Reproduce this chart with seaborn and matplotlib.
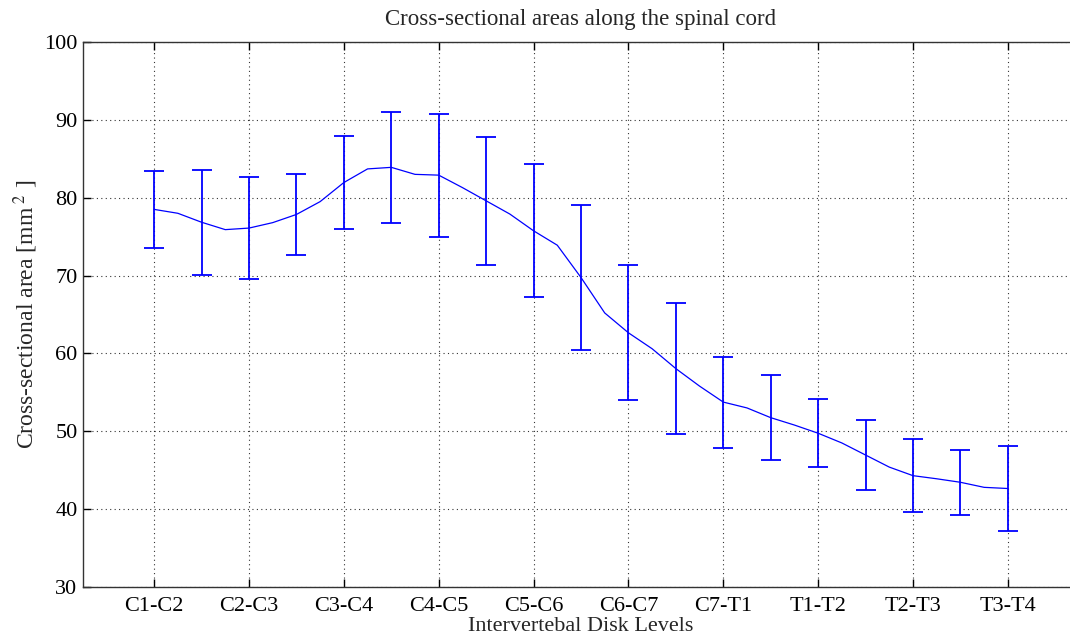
import numpy as np
import matplotlib
matplotlib.use("Agg")
import matplotlib.pyplot as plt
import seaborn as sns

# Intervertebral disk levels (tick labels)
levels = ["C1-C2", "C2-C3", "C3-C4", "C4-C5", "C5-C6",
          "C6-C7", "C7-T1", "T1-T2", "T2-T3", "T3-T4"]

# Mean cross-sectional area, sampled every quarter level (C1-C2 .. T3-T4)
area_curve = [78.5, 78.0, 76.85, 75.9, 76.1, 76.8, 77.85, 79.5,
              81.95, 83.7, 83.9, 83.0, 82.9, 81.3, 79.6, 77.9,
              75.75, 73.9, 69.75, 65.2, 62.65, 60.6, 58.05, 55.8,
              53.75, 53.0, 51.75, 50.8, 49.75, 48.5, 46.95, 45.4,
              44.3, 43.9, 43.45, 42.8, 42.65]

# Mean and standard deviation at every half level
bar_mean = [78.5, 76.85, 76.1, 77.85, 81.95, 83.9, 82.9, 79.6, 75.75, 69.75,
            62.65, 58.05, 53.75, 51.75, 49.75, 46.95, 44.3, 43.45, 42.65]
bar_sd = [4.9, 6.75, 6.5, 5.25, 5.95, 7.1, 7.9, 8.2, 8.55, 9.35,
          8.65, 8.45, 5.85, 5.45, 4.35, 4.45, 4.7, 4.15, 5.45]

y_ticks = [30, 40, 50, 60, 70, 80, 90, 100]

sns.set_style("ticks")
plt.rcParams["font.family"] = ["Liberation Serif", "DejaVu Serif"]
plt.rcParams["mathtext.fontset"] = "stix"

fig = plt.figure(figsize=(10.70, 6.40), dpi=100)
ax = fig.add_axes([83 / 1070, 53 / 640, 996 / 1070, 545 / 640])

n = len(levels)
curve_x = np.linspace(1, n, len(area_curve))
bar_x = np.linspace(1, n, len(bar_mean))

sns.lineplot(x=curve_x, y=area_curve, ax=ax, color="#0000ff",
             linewidth=0.9, legend=False)
ax.errorbar(bar_x, bar_mean, yerr=bar_sd, fmt="none", ecolor="#0000ff",
            elinewidth=1.3, capsize=7.5, capthick=1.3)

ax.set_xlim(0.25, n + 0.75)
ax.set_ylim(30, 100)
ax.set_xticks(np.arange(1, n + 1))
ax.set_xticklabels(levels)
ax.set_yticks(y_ticks)

ax.grid(True, linestyle=(0, (1, 3)), color="black", linewidth=0.8, alpha=0.8)
ax.tick_params(direction="in", length=6, width=1, top=True, right=True,
               labelsize=16, colors="black")
ax.tick_params(axis="x", pad=7)
ax.tick_params(axis="y", pad=4)
for sp in ax.spines.values():
    sp.set_color("#333333")
    sp.set_linewidth(1.0)

ax.set_title("Cross-sectional areas along the spinal cord", fontsize=16.5, pad=12)
ax.set_xlabel("Intervertebal Disk Levels", fontsize=16, labelpad=1)
ax.set_ylabel(r"Cross-sectional area [mm$^{\,\,2}$ ]", fontsize=17, labelpad=3)

fig.savefig("out.png", dpi=100)
